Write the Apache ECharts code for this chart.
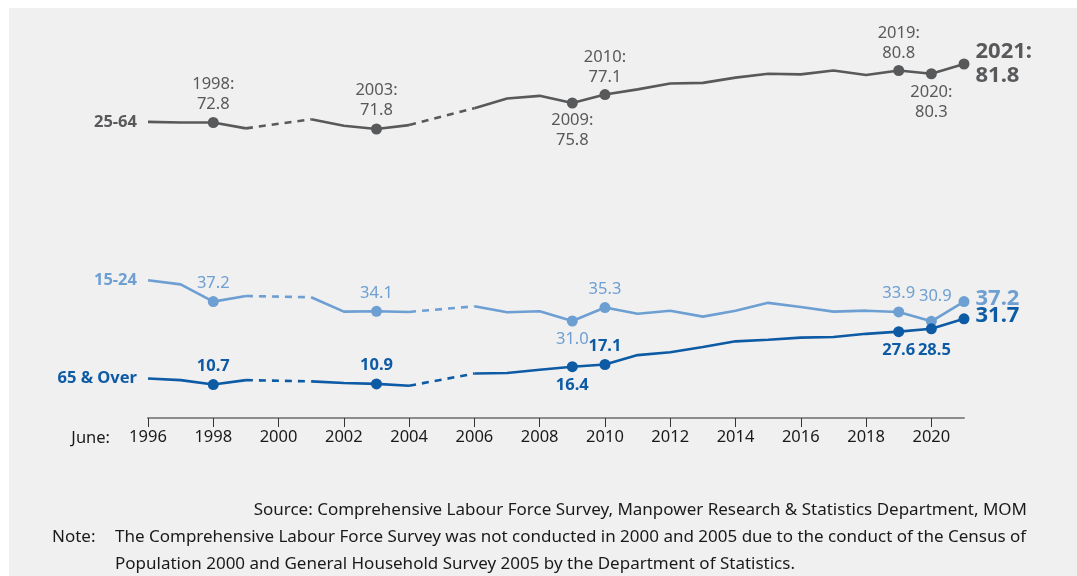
<!DOCTYPE html>
<html><head><meta charset="utf-8">
<script src="https://cdn.jsdelivr.net/npm/echarts@6/dist/echarts.min.js"></script>
<style>html,body{margin:0;padding:0;background:#fff}#c{width:1077px;height:576px}</style>
</head><body><div id="c"></div>
<script>
// ---------- data ----------
const years = ['1996','1997','1998','1999','2000','2001','2002','2003','2004','2005','2006','2007','2008','2009','2010','2011','2012','2013','2014','2015','2016','2017','2018','2019','2020','2021'];
const age25to64 = [72.9, 72.8, 72.8, 71.9, null, 73.3, 72.3, 71.8, 72.4, null, 75.0, 76.5, 76.9, 75.8, 77.1, 77.9, 78.8, 78.9, 79.7, 80.3, 80.2, 80.8, 80.1, 80.8, 80.3, 81.8];
const age15to24 = [44.0, 42.7, 37.2, 39.0, null, 38.6, 34.0, 34.1, 33.9, null, 35.7, 33.8, 34.1, 31.0, 35.3, 33.3, 34.3, 32.4, 34.3, 36.8, 35.5, 34.0, 34.3, 33.9, 30.9, 37.2];
const age65over = [12.6, 12.1, 10.7, 12.1, null, 11.7, 11.2, 10.9, 10.3, null, 14.2, 14.4, 15.4, 16.4, 17.1, 20.1, 21.0, 22.7, 24.5, 25.0, 25.7, 25.9, 26.9, 27.6, 28.5, 31.7];
const seriesNames = ['25-64', '15-24', '65 & Over'];
const gapPairs = [['1999', '2001'], ['2004', '2006']];
const axisPrefix = 'June:';
const sourceText = 'Source: Comprehensive Labour Force Survey, Manpower Research & Statistics Department, MOM';
const noteLabel = 'Note:';
const noteLines = ['The Comprehensive Labour Force Survey was not conducted in 2000 and 2005 due to the conduct of the Census of',
                   'Population 2000 and General Household Survey 2005 by the Department of Statistics.'];

// ---------- style ----------
const FONT = "'Noto Sans', 'Open Sans', sans-serif";
const C_GREY = '#58595b', C_LIGHT = '#6d9fd2', C_DARK = '#0d5aa5';
const LBL = 16.5;

const yearLabel = (p) => p.name + ':\n' + p.value.toFixed(1);
const valLabel = (p) => p.value.toFixed(1);

const big = {fontSize: 22, fontWeight: 'bold', lineHeight: 24, position: 'right', distance: 6};
const cfg25 = {
  '1998': {position: 'top', distance: 3, formatter: yearLabel},
  '2003': {position: 'top', distance: 3, formatter: yearLabel},
  '2009': {position: 'bottom', distance: 2, formatter: yearLabel},
  '2010': {position: 'top', distance: 2, formatter: yearLabel},
  '2019': {position: 'top', distance: 2, formatter: yearLabel},
  '2020': {position: 'bottom', distance: 3, formatter: yearLabel},
  '2021': Object.assign({formatter: yearLabel}, big)
};
const cfg15 = {
  '1998': {position: 'top', distance: 3, formatter: valLabel},
  '2003': {position: 'top', distance: 3, formatter: valLabel},
  '2009': {position: 'bottom', distance: 3, formatter: valLabel},
  '2010': {position: 'top', distance: 3, formatter: valLabel},
  '2019': {position: 'top', distance: 3, formatter: valLabel},
  '2020': {position: 'top', distance: 10, formatter: valLabel, offset: [4, 0]},
  '2021': Object.assign({formatter: valLabel, offset: [0, -3]}, big)
};
const cfg65 = {
  '1998': {position: 'top', distance: 3, formatter: valLabel},
  '2003': {position: 'top', distance: 3, formatter: valLabel},
  '2009': {position: 'bottom', distance: 3, formatter: valLabel},
  '2010': {position: 'top', distance: 3, formatter: valLabel},
  '2019': {position: 'bottom', distance: 3, formatter: valLabel},
  '2020': {position: 'bottom', distance: 6, formatter: valLabel, offset: [3, 0]},
  '2021': Object.assign({formatter: valLabel, offset: [0, -3]}, big)
};

function buildData(values, cfg, name, color, bold) {
  return values.map((v, i) => {
    const y = years[i];
    const item = {value: v};
    if (i === 0) {
      item.label = {show: true, position: 'left', distance: 11, formatter: name,
        fontWeight: 'bold', fontSize: LBL, color: color, fontFamily: FONT};
    }
    const c = cfg[y];
    if (c) {
      item.symbolSize = 11;
      item.label = Object.assign({show: true, color: color, fontFamily: FONT, fontSize: LBL,
        lineHeight: 20, fontWeight: bold ? 'bold' : 'normal'}, c);
    }
    return item;
  });
}
function gapData(values, pair) {
  const a = years.indexOf(pair[0]), b = years.indexOf(pair[1]);
  return values.map((v, i) => (i === a || i === b) ? v : null);
}
function solid(name, values, cfg, color, axis, bold) {
  return {type: 'line', name: name, yAxisIndex: axis, data: buildData(values, cfg, name, color, bold),
    symbol: 'circle', symbolSize: 0, showAllSymbol: true, connectNulls: false, silent: true,
    lineStyle: {color: color, width: 2.6}, itemStyle: {color: color}, label: {show: false}, z: 3};
}
function dashed(values, color, axis) {
  return gapPairs.map(p => ({type: 'line', yAxisIndex: axis, data: gapData(values, p), connectNulls: true,
    symbol: 'none', silent: true, lineStyle: {color: color, width: 2.6, type: [7, 6]}, z: 2}));
}

const chart = echarts.init(document.getElementById('c'), null, {renderer: 'canvas'});
chart.setOption({
  animation: false,
  backgroundColor: '#ffffff',
  graphic: [
    {type: 'rect', shape: {x: 9, y: 8, width: 1068, height: 568}, style: {fill: '#f0f0f0'}, z: -10},
    {type: 'text', x: 110, y: 438, style: {text: axisPrefix, fontFamily: FONT, fontSize: 16.5, fill: '#1a1a1a', align: 'right', verticalAlign: 'middle'}},
    {type: 'text', x: 1027, y: 510, style: {text: sourceText, fontFamily: FONT, fontSize: 17, fill: '#1a1a1a', align: 'right', verticalAlign: 'middle'}},
    {type: 'text', x: 52, y: 537, style: {text: noteLabel, fontFamily: FONT, fontSize: 17, fill: '#1a1a1a', verticalAlign: 'middle'}},
    {type: 'text', x: 115, y: 537, style: {text: noteLines[0], fontFamily: FONT, fontSize: 17, fill: '#1a1a1a', verticalAlign: 'middle'}},
    {type: 'text', x: 115, y: 564, style: {text: noteLines[1], fontFamily: FONT, fontSize: 17, fill: '#1a1a1a', verticalAlign: 'middle'}}
  ],
  grid: {left: 148, right: 113, top: 30, bottom: 158},
  xAxis: {
    type: 'category', data: years, boundaryGap: false,
    axisLine: {lineStyle: {color: '#8c8c8c', width: 2}},
    axisTick: {interval: 1, length: 9, lineStyle: {color: '#333', width: 1}},
    axisLabel: {interval: 1, color: '#1a1a1a', fontFamily: FONT, fontSize: 16.5, margin: 11},
    splitLine: {show: false}
  },
  yAxis: [
    {type: 'value', min: 0, max: 124, show: false, splitLine: {show: false}},
    {type: 'value', min: 27.34, max: 87.03, show: false, splitLine: {show: false}}
  ],
  series: [
    solid(seriesNames[0], age25to64, cfg25, C_GREY, 1, false),
    solid(seriesNames[1], age15to24, cfg15, C_LIGHT, 0, false),
    solid(seriesNames[2], age65over, cfg65, C_DARK, 0, true),
    ...dashed(age25to64, C_GREY, 1),
    ...dashed(age15to24, C_LIGHT, 0),
    ...dashed(age65over, C_DARK, 0)
  ]
});
</script></body></html>
